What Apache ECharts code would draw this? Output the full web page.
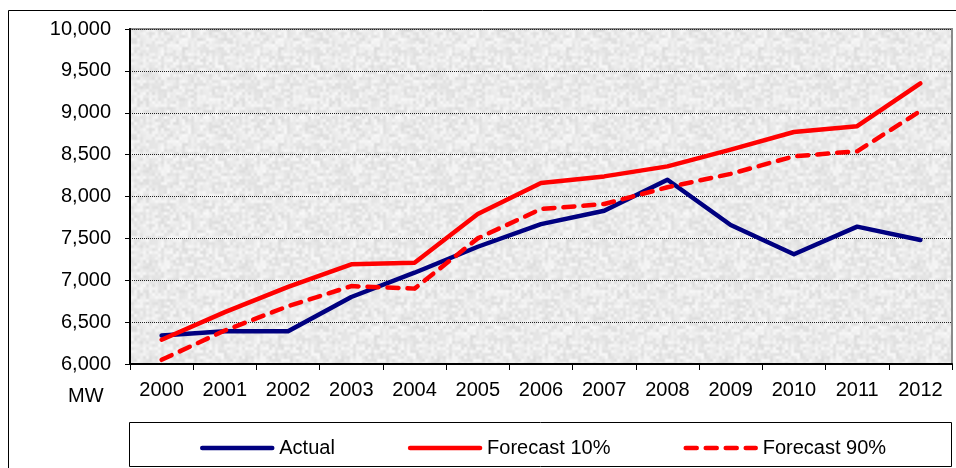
<!DOCTYPE html>
<html>
<head>
<meta charset="utf-8">
<script src="https://cdn.jsdelivr.net/npm/echarts@6/dist/echarts.min.js"></script>
<style>
  html, body { margin: 0; padding: 0; background: #ffffff; }
  #chart { width: 956px; height: 468px; }
</style>
</head>
<body>
<div id="chart"></div>
<script>
// Peak demand, MW: recorded values against the 10% and 90% forecasts
const years = ['2000', '2001', '2002', '2003', '2004', '2005', '2006',
               '2007', '2008', '2009', '2010', '2011', '2012'];
const actual     = [6340, 6390, 6390, 6800, 7090, 7400, 7670, 7830, 8200, 7660, 7310, 7640, 7480];
const forecast10 = [6290, 6620, 6920, 7190, 7210, 7790, 8160, 8240, 8360, 8560, 8770, 8840, 9350];
const forecast90 = [6050, 6400, 6690, 6930, 6900, 7500, 7850, 7910, 8110, 8270, 8480, 8540, 9020];
const seriesNames = ['Actual', 'Forecast 10%', 'Forecast 90%'];
const yMin = 6000;
const yMax = 10000;
const yStep = 500;
const unitLabel = 'MW';

const FONT = '"Liberation Sans", Arial, sans-serif';
const LINE_W = 4.5;
const DASH = [11, 9];

// Speckled grey fill for the plot area (deterministic value noise)
function grainPattern() {
  const size = 96;
  const c = document.createElement('canvas');
  c.width = size; c.height = size;
  const ctx = c.getContext('2d');
  const img = ctx.createImageData(size, size);
  const h = (x, y) => {
    const s = Math.sin(((x % 32 + 32) % 32) * 127.1 + ((y % 32 + 32) % 32) * 311.7) * 43758.5453;
    return s - Math.floor(s);
  };
  const cell = 3;
  const smooth = t => t * t * (3 - 2 * t);
  for (let y = 0; y < size; y++) {
    for (let x = 0; x < size; x++) {
      const gx = x / cell, gy = y / cell;
      const x0 = Math.floor(gx), y0 = Math.floor(gy);
      const fx = smooth(gx - x0), fy = smooth(gy - y0);
      const a = h(x0, y0), b = h(x0 + 1, y0), cc = h(x0, y0 + 1), d = h(x0 + 1, y0 + 1);
      const v = (a * (1 - fx) + b * fx) * (1 - fy) + (cc * (1 - fx) + d * fx) * fy;
      const g = Math.round(220 + v * 28);
      const i = (y * size + x) * 4;
      img.data[i] = g; img.data[i + 1] = g; img.data[i + 2] = g; img.data[i + 3] = 255;
    }
  }
  ctx.putImageData(img, 0, 0);
  return c;
}

const chart = echarts.init(document.getElementById('chart'), null, { renderer: 'canvas' });

const lineSeries = (name, data, color, dashed) => ({
  name: name,
  type: 'line',
  data: data,
  symbol: 'none',
  smooth: false,
  lineStyle: {
    color: color,
    width: LINE_W,
    type: dashed ? DASH : 'solid',
    cap: 'round',
    join: 'round'
  },
  itemStyle: { color: color },
  emphasis: { disabled: true },
  z: 3
});

const legendItem = (name, color, dashed) => ({
  name: name,
  itemStyle: { opacity: 0 },
  lineStyle: { color: color, width: LINE_W, type: dashed ? DASH : 'solid', cap: 'round' }
});

chart.setOption({
  animation: false,
  backgroundColor: '#ffffff',
  textStyle: { fontFamily: FONT, color: '#000' },
  grid: {
    left: 130, top: 29, right: 4, bottom: 104,
    show: true,
    backgroundColor: { image: grainPattern(), repeat: 'repeat' },
    borderColor: '#8a8a8a',
    borderWidth: 2
  },
  legend: {
    data: [
      legendItem(seriesNames[0], '#000080', false),
      legendItem(seriesNames[1], '#ff0000', false),
      legendItem(seriesNames[2], '#ff0000', true)
    ],
    left: 200,
    top: 438,
    padding: 0,
    itemWidth: 70,
    itemHeight: 14,
    itemGap: 73,
    itemStyle: { opacity: 0 },
    textStyle: { fontFamily: FONT, fontSize: 20, color: '#000', padding: [0, 0, 0, 2] },
    selectedMode: false
  },
  graphic: [
    {
      type: 'rect',
      shape: { x: 8.5, y: 10.5, width: 960, height: 470 },
      style: { fill: 'none', stroke: '#000', lineWidth: 1 },
      silent: true, z: -10
    },
    {
      type: 'rect',
      shape: { x: 129.5, y: 422.5, width: 822, height: 44 },
      style: { fill: '#fff', stroke: '#000', lineWidth: 1 },
      silent: true, z: -5
    },
    {
      type: 'text',
      left: 68, top: 386,
      style: { text: unitLabel, font: '20px ' + FONT, fill: '#000' },
      silent: true
    }
  ],
  xAxis: {
    type: 'category',
    data: years,
    boundaryGap: true,
    axisLine: { show: true, lineStyle: { color: '#000', width: 2 } },
    axisTick: { show: true, length: 6, alignWithLabel: false, lineStyle: { color: '#000', width: 1 } },
    axisLabel: { fontSize: 20, color: '#000', fontFamily: FONT, margin: 16 },
    splitLine: { show: false }
  },
  yAxis: {
    type: 'value',
    min: yMin,
    max: yMax,
    interval: yStep,
    axisLine: { show: true, lineStyle: { color: '#000', width: 2 } },
    axisTick: { show: true, length: 5, lineStyle: { color: '#000', width: 1 } },
    axisLabel: {
      fontSize: 20, color: '#000', fontFamily: FONT, margin: 19,
      formatter: v => v.toLocaleString('en-US')
    },
    splitLine: { show: true, lineStyle: { color: '#222', width: 1, type: [1, 1] } }
  },
  series: [
    lineSeries(seriesNames[0], actual, '#000080', false),
    lineSeries(seriesNames[1], forecast10, '#ff0000', false),
    lineSeries(seriesNames[2], forecast90, '#ff0000', true)
  ]
});
</script>
</body>
</html>
